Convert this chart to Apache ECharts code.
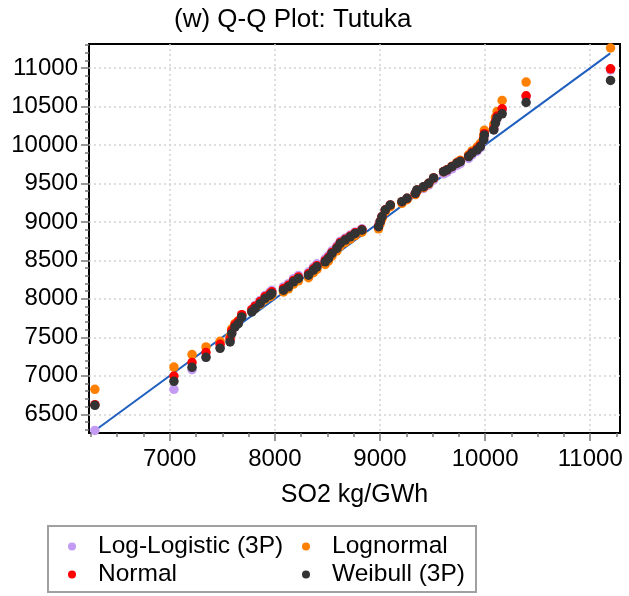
<!DOCTYPE html>
<html>
<head>
<meta charset="utf-8">
<script src="https://cdn.jsdelivr.net/npm/echarts@6/dist/echarts.min.js"></script>
<style>
  html, body { margin: 0; padding: 0; background: #fff; }
  #chart { width: 629px; height: 596px; }
</style>
</head>
<body>
<div id="chart"></div>
<script>
// Observed SO2 values (sorted, kg/GWh) and the fitted quantiles of each distribution
const observed = [6288, 7040, 7212, 7345, 7479, 7574, 7590, 7621, 7653, 7685, 7781, 7812, 7860, 7907, 7955, 7971,
  8082, 8129, 8177, 8224, 8320, 8367, 8400, 8479, 8510, 8543, 8590, 8622, 8669, 8717, 8764, 8828,
  8986, 9002, 9019, 9050, 9098, 9209, 9257, 9336, 9352, 9415, 9463, 9510, 9605, 9638, 9685, 9733,
  9764, 9843, 9876, 9923, 9955, 9986, 9993, 10082, 10098, 10114, 10162, 10390, 11193];

const logLogistic = [6290, 6824, 7080, 7240, 7370, 7460, 7560, 7650, 7700, 7790, 7865, 7915, 7980, 8045, 8090, 8112,
  8155, 8198, 8262, 8305, 8348, 8412, 8455, 8520, 8562, 8625, 8688, 8750, 8790, 8830, 8870, 8910,
  8950, 9010, 9072, 9155, 9215, 9255, 9295, 9355, 9395, 9435, 9478, 9545, 9625, 9647, 9690, 9735,
  9757, 9825, 9872, 9918, 9965, 10058, 10128, 10200, 10295, 10368, 10460, 10625, 10975];

const lognormal = [6824, 7114, 7276, 7375, 7449, 7510, 7610, 7680, 7715, 7790, 7840, 7875, 7930, 7990, 8030, 8050,
  8090, 8130, 8192, 8235, 8275, 8340, 8382, 8447, 8492, 8557, 8623, 8690, 8733, 8777, 8822, 8866,
  8910, 8976, 9042, 9132, 9198, 9242, 9288, 9355, 9400, 9446, 9494, 9566, 9652, 9678, 9725, 9775,
  9800, 9872, 9922, 9972, 10022, 10118, 10190, 10265, 10360, 10435, 10578, 10817, 11260];

const normal = [6625, 6997, 7172, 7302, 7410, 7480, 7585, 7665, 7710, 7795, 7860, 7905, 7965, 8030, 8070, 8092,
  8135, 8176, 8240, 8283, 8325, 8390, 8432, 8496, 8540, 8604, 8668, 8732, 8774, 8816, 8859, 8901,
  8942, 9006, 9070, 9157, 9221, 9263, 9306, 9371, 9414, 9457, 9502, 9571, 9654, 9677, 9721, 9767,
  9789, 9856, 9901, 9946, 9991, 10080, 10147, 10215, 10305, 10375, 10470, 10639, 10990];

const weibull = [6616, 6928, 7110, 7241, 7358, 7440, 7549, 7635, 7679, 7765, 7830, 7875, 7940, 8005, 8048, 8070,
  8113, 8156, 8221, 8265, 8308, 8373, 8416, 8481, 8526, 8591, 8656, 8721, 8764, 8807, 8851, 8894,
  8937, 9002, 9067, 9155, 9220, 9263, 9307, 9372, 9415, 9458, 9502, 9571, 9653, 9675, 9718, 9763,
  9784, 9849, 9893, 9936, 9979, 10066, 10131, 10196, 10283, 10348, 10405, 10552, 10838];

// Reference line y = x
const refLine = [6315, 11190];

const xTicks = [7000, 8000, 9000, 10000, 11000];
const xMinorTicks = [6250, 6500, 6750, 7250, 7500, 7750, 8250, 8500, 8750, 9250, 9500, 9750, 10250, 10500, 10750, 11250];
const yTicks = [6500, 7000, 7500, 8000, 8500, 9000, 9500, 10000, 10500, 11000];
const yMinorTicks = [6300, 6400, 6600, 6700, 6800, 6900, 7100, 7200, 7300, 7400, 7600, 7700, 7800, 7900,
  8100, 8200, 8300, 8400, 8600, 8700, 8800, 8900, 9100, 9200, 9300, 9400, 9600, 9700, 9800, 9900,
  10100, 10200, 10300, 10400, 10600, 10700, 10800, 10900, 11100, 11200, 11300];

const FONT = '"Liberation Sans", Arial, sans-serif';
const X_RANGE = [6232, 11283];
const Y_RANGE = [6257, 11312];

function pairs(ys) { return observed.map((x, i) => [x, ys[i]]); }
const plain = v => String(v);

const seriesDefs = [
  { name: 'Log-Logistic (3P)', color: '#c39bf3', data: logLogistic },
  { name: 'Lognormal', color: '#ff8000', data: lognormal },
  { name: 'Normal', color: '#ff0000', data: normal },
  { name: 'Weibull (3P)', color: '#333333', data: weibull }
];

const chart = echarts.init(document.getElementById('chart'), null, { renderer: 'canvas' });

const legendBase = {
  orient: 'vertical',
  top: 534,
  icon: 'circle',
  itemWidth: 8,
  itemHeight: 8,
  itemGap: 3,
  padding: 0,
  formatter: name => '{t|' + name + '}',
  textStyle: {
    fontFamily: FONT, fontSize: 24.5, color: '#000',
    rich: { t: { fontFamily: FONT, fontSize: 24.5, lineHeight: 25, color: '#000', padding: [0, 0, 0, 17] } }
  }
};

const tickLine = { color: '#777', width: 1.5 };
const gridLine = { show: true, lineStyle: { color: '#d4d4d4', type: [2, 3], width: 1.5 } };

chart.setOption({
  animation: false,
  backgroundColor: '#fff',
  title: {
    text: '(w) Q-Q Plot: Tutuka',
    left: 174, top: 7,
    padding: 0,
    textStyle: { fontFamily: FONT, fontSize: 26, fontWeight: 'normal', color: '#000' }
  },
  grid: {
    left: 89, right: 9, top: 44, bottom: 163,
    show: true, borderColor: '#000', borderWidth: 2, backgroundColor: '#fff'
  },
  legend: [
    Object.assign({}, legendBase, { left: 68, data: ['Log-Logistic (3P)', 'Normal'] }),
    Object.assign({}, legendBase, { left: 302, data: ['Lognormal', 'Weibull (3P)'] })
  ],
  xAxis: [
    {
      type: 'value', min: X_RANGE[0], max: X_RANGE[1], position: 'bottom',
      name: 'SO2 kg/GWh', nameLocation: 'middle', nameGap: 50,
      nameTextStyle: { fontFamily: FONT, fontSize: 25, color: '#000' },
      axisLine: { show: false },
      axisTick: { show: true, customValues: xTicks, length: 8, lineStyle: tickLine },
      axisLabel: { customValues: xTicks, formatter: plain, fontFamily: FONT, fontSize: 24, color: '#000', margin: 14 },
      splitLine: gridLine
    },
    {
      type: 'value', min: X_RANGE[0], max: X_RANGE[1], position: 'bottom',
      axisLine: { show: false },
      axisTick: { show: true, customValues: xMinorTicks, length: 4, lineStyle: tickLine },
      axisLabel: { show: false },
      splitLine: { show: false }
    }
  ],
  yAxis: [
    {
      type: 'value', min: Y_RANGE[0], max: Y_RANGE[1], position: 'left',
      axisLine: { show: false },
      axisTick: { show: true, customValues: yTicks, length: 8, lineStyle: tickLine },
      axisLabel: { customValues: yTicks, formatter: plain, fontFamily: FONT, fontSize: 24, color: '#000', margin: 11 },
      splitLine: gridLine
    },
    {
      type: 'value', min: Y_RANGE[0], max: Y_RANGE[1], position: 'left',
      axisLine: { show: false },
      axisTick: { show: true, customValues: yMinorTicks, length: 4, lineStyle: tickLine },
      axisLabel: { show: false },
      splitLine: { show: false }
    }
  ],
  graphic: [{
    type: 'rect',
    shape: { x: 48, y: 526, width: 428, height: 66 },
    style: { fill: 'none', stroke: '#a0a0a0', lineWidth: 2 },
    z: 0
  }],
  series: [
    {
      name: 'reference', type: 'line', xAxisIndex: 0, yAxisIndex: 0,
      data: [[refLine[0], refLine[0]], [refLine[1], refLine[1]]],
      showSymbol: false, symbol: 'none', silent: true,
      lineStyle: { color: '#1f5fbf', width: 2 }, z: 1
    }
  ].concat(seriesDefs.map((s, i) => ({
    name: s.name, type: 'scatter', xAxisIndex: 0, yAxisIndex: 0,
    data: pairs(s.data), symbol: 'circle', symbolSize: 9.5,
    itemStyle: { color: s.color, opacity: 1 }, z: 2 + i
  })))
});
</script>
</body>
</html>
